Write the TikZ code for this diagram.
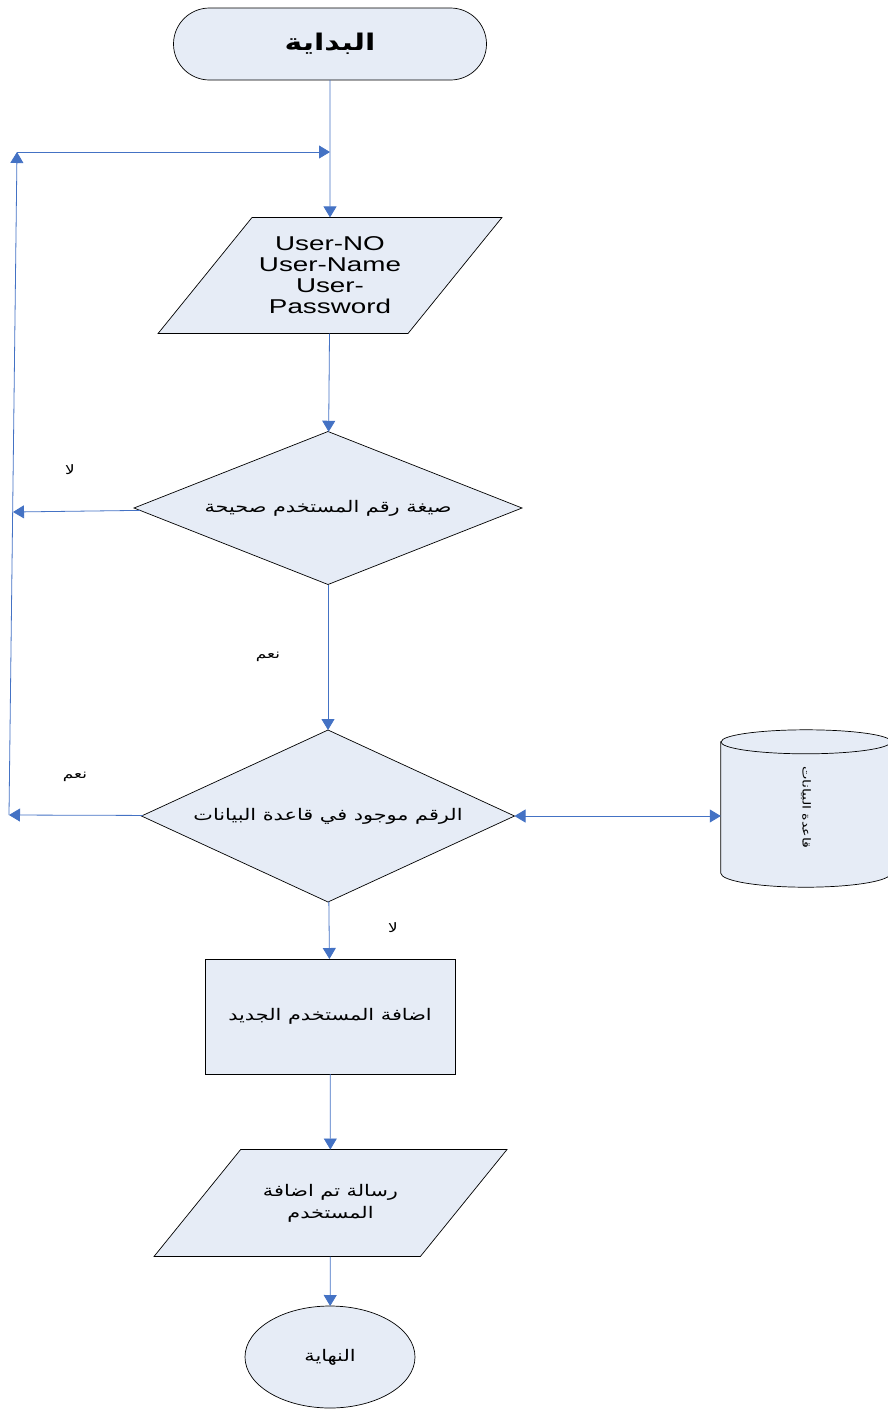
\documentclass[tikz,border=0pt]{standalone}
\usepackage{fontspec}
\usepackage{tikz}
\usetikzlibrary{arrows.meta,shapes.geometric,shapes.misc,calc}
\TeXXeTstate=1
\newfontfamily\arabicfont[Script=Arabic,FakeStretch=1.3]{DejaVu Sans}
\newfontfamily\latinfont[FakeStretch=1.39]{Liberation Sans}
\newcommand{\artxt}[1]{\beginR #1\endR}
\definecolor{qqbbcc}{RGB}{68,114,196}
\definecolor{eeeeff}{RGB}{230,236,246}
\tikzset{
  box/.style={draw=black,fill=eeeeff,line width=0.7pt,inner sep=0pt,outer sep=0pt,
    font=\arabicfont\fontsize{16}{22}\selectfont,align=center},
  flow/.style={draw=qqbbcc,line width=0.8pt,-{Triangle[length=11pt,width=13pt]}},
  parbox/.style={box,trapezium,trapezium left angle=51,trapezium right angle=129,
    trapezium stretches body=true},
  tag/.style={font=\arabicfont\fontsize{13}{15}\selectfont}
}
\begin{document}
\begin{tikzpicture}[x=1pt,y=-1pt]
\useasboundingbox (0,0) rectangle (888,1409);
% الشكل
\node[box,rounded rectangle,minimum width=313pt,minimum height=72pt,
  font=\arabicfont\bfseries\fontsize{23}{26}\selectfont] (start) at (330,44) {\artxt{البداية}};
\node[parbox,minimum width=344pt,inner ysep=19.5pt,
  font=\latinfont\fontsize{20}{21}\selectfont] (input) at (330,275.5)
  {User-NO\\User-Name\\User-\\Password};
\node[box,diamond,aspect=2.54,minimum width=388pt,minimum height=153pt] (check) at (328,508)
  {\artxt{صيغة رقم المستخدم  صحيحة}};
\node[box,diamond,aspect=2.17,minimum width=373pt,minimum height=172pt] (exists) at (328,816)
  {\artxt{الرقم  موجود في قاعدة البيانات}};
\node[box,minimum width=250pt,minimum height=115pt] (add) at (330,1016.5)
  {\artxt{اضافة المستخدم الجديد}};
\node[parbox,minimum width=353pt,inner ysep=34.5pt] (msg) at (330.5,1203)
  {\artxt{رسالة تم اضافة}\\\artxt{المستخدم}};
\node[box,ellipse,minimum width=170pt,minimum height=102pt] (stop) at (330,1357)
  {\artxt{النهاية}};
% قاعدة البيانات
\node[minimum width=170pt,minimum height=131pt,inner sep=0pt] (db) at (806,807.5) {};
\draw[box] (db.north west) -- (db.south west)
  arc[start angle=180,end angle=360,x radius=85pt,y radius=14pt]
  -- (db.north east) arc[start angle=0,end angle=180,x radius=85pt,y radius=12pt] -- cycle;
\draw[line width=0.7pt] (db.north west) arc[start angle=180,end angle=360,x radius=85pt,y radius=12pt];
\node[tag,rotate=-90,font=\arabicfont\fontsize{11}{13}\selectfont] at (db) {\artxt{قاعدة البيانات}};
% الأسهم
\coordinate (join) at (330,152);
\coordinate (looptop) at (17,152);
\coordinate (loopbot) at (9,815);
\coordinate (loopmid) at (13,512);
\draw[flow] (start) -- (input);
\draw[flow] (looptop) -- (join);
\draw[flow] (loopbot) -- (looptop);
\draw[flow] (input) -- (check);
\draw[flow] (check) -- (loopmid);
\draw[flow] (check) -- (exists);
\draw[flow] (exists) -- (loopbot);
\draw[flow,{Triangle[length=11pt,width=13pt]}-{Triangle[length=11pt,width=13pt]}]
  (exists.east) -- (db.west |- exists.east);
\draw[flow] (exists) -- (add);
\draw[flow] (add) -- (msg);
\draw[flow] (msg) -- (stop);
% التسميات
\node[tag] (no1) at (70,470) {\artxt{لا}};
\node[tag] (yes1) at (268,657) {\artxt{نعم}};
\node[tag] (yes2) at (75,777) {\artxt{نعم}};
\node[tag] (no2) at (393,928) {\artxt{لا}};
\end{tikzpicture}
\end{document}
